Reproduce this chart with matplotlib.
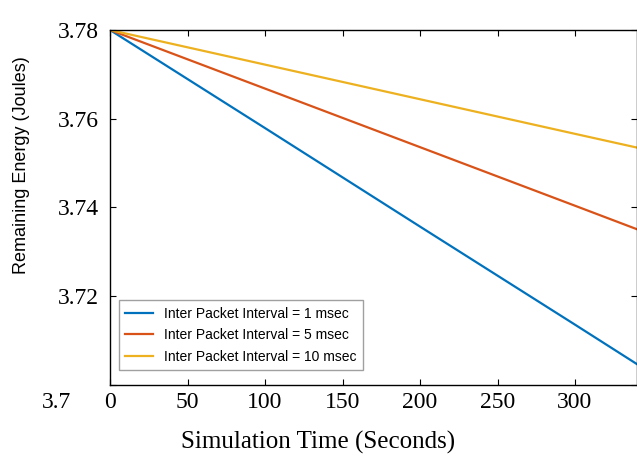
import matplotlib
matplotlib.use("Agg")
import matplotlib.pyplot as plt
import matplotlib.transforms as mtransforms

# values
time_s = [0, 100, 200, 300, 340]
energy_1ms = [3.780, 3.7579, 3.7357, 3.7136, 3.7047]
energy_5ms = [3.780, 3.7668, 3.7536, 3.7404, 3.7351]
energy_10ms = [3.780, 3.7722, 3.7644, 3.7566, 3.7535]
series_labels = [
    "Inter Packet Interval = 1 msec",
    "Inter Packet Interval = 5 msec",
    "Inter Packet Interval = 10 msec",
]
x_ticks = [0, 50, 100, 150, 200, 250, 300]
y_ticks = [3.70, 3.72, 3.74, 3.76, 3.78]
y_tick_labels = ["3.7", "3.72", "3.74", "3.76", "3.78"]

serif = ["Liberation Serif", "DejaVu Serif"]
sans = ["Liberation Sans", "DejaVu Sans"]

fig = plt.figure(figsize=(6.37, 4.57), dpi=100)
ax = fig.add_axes([110 / 637, 72 / 457, 527 / 637, 355 / 457])

colors = ["#0072BD", "#D95319", "#EDB120"]
for ys, lab, c in zip([energy_1ms, energy_5ms, energy_10ms], series_labels, colors):
    ax.plot(time_s, ys, color=c, lw=1.6, label=lab)

ax.set_xlim(0, 340)
ax.set_ylim(3.70, 3.78)
ax.set_xticks(x_ticks)
ax.set_yticks(y_ticks)
ax.set_yticklabels(y_tick_labels)
ax.tick_params(direction="in", top=True, right=True, length=4, width=0.8)
ax.tick_params(axis="x", pad=5)
ax.tick_params(axis="y", pad=8)
for t in ax.get_xticklabels() + ax.get_yticklabels():
    t.set_fontfamily(serif)
    t.set_fontsize(17)

# the bottom y label sits down on the row of x labels in the picture
lbl = ax.get_yticklabels()[0]
lbl.set_transform(lbl.get_transform() + mtransforms.ScaledTranslation(-28 / 100, -15 / 100, fig.dpi_scale_trans))

for sp in ax.spines.values():
    sp.set_linewidth(1.0)

ax.set_xlabel("Simulation Time (Seconds)", family=serif, fontsize=18)
ax.xaxis.set_label_coords(0.395, -0.13)
ax.set_ylabel("Remaining Energy (Joules)", family=sans, fontsize=13)
ax.yaxis.set_label_coords(-0.152, 0.62)

leg = ax.legend(loc="lower left", bbox_to_anchor=(0.017, 0.042), fancybox=False,
                prop={"family": sans, "size": 10}, handlelength=2.0, labelspacing=0.55,
                borderpad=0.45, borderaxespad=0)
leg.get_frame().set_edgecolor("#888888")
leg.get_frame().set_linewidth(1.0)

fig.savefig("out.png", dpi=100)
